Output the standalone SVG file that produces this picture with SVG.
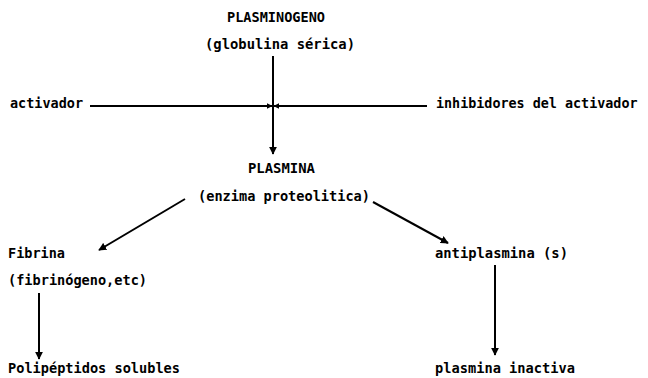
<svg xmlns="http://www.w3.org/2000/svg" width="648" height="378" viewBox="0 0 648 378">
<style>
text{font-family:"DejaVu Sans Mono","Liberation Mono",monospace;font-size:14.5px;font-weight:bold;fill:#000}
.c{stroke:#000;stroke-width:2;fill:none}
</style>
<defs>
<marker id="ah" viewBox="0 0 10 10" refX="9" refY="5" markerWidth="6" markerHeight="6" markerUnits="userSpaceOnUse" orient="auto">
<path d="M0,0 L10,5 L0,10 z" fill="#000"/>
</marker>
<marker id="ab" viewBox="0 0 10 10" refX="9" refY="5" markerWidth="8" markerHeight="8" markerUnits="userSpaceOnUse" orient="auto">
<path d="M0,0 L10,5 L0,10 z" fill="#000"/>
</marker>
</defs>
<rect width="648" height="378" fill="#fff"/>
<g id="plasminogeno"><text x="227" y="22" textLength="98" lengthAdjust="spacingAndGlyphs">PLASMINOGENO</text><text x="205" y="49" textLength="150" lengthAdjust="spacingAndGlyphs">(globulina sérica)</text></g>
<g id="activador"><text x="10" y="108" textLength="73" lengthAdjust="spacingAndGlyphs">activador</text></g>
<g id="inhibidores"><text x="436" y="108" style="font-size:13.4px">inhibidores del activador</text></g>
<g id="plasmina"><text x="248" y="173" textLength="67" lengthAdjust="spacingAndGlyphs">PLASMINA</text><text x="198" y="201" textLength="172" lengthAdjust="spacingAndGlyphs">(enzima proteolitica)</text></g>
<g id="fibrina"><text x="8" y="258" textLength="57" lengthAdjust="spacingAndGlyphs">Fibrina</text><text x="8" y="285" textLength="139" lengthAdjust="spacingAndGlyphs">(fibrinógeno,etc)</text></g>
<g id="polipeptidos"><text x="8" y="373" textLength="172" lengthAdjust="spacingAndGlyphs">Polipéptidos solubles</text></g>
<g id="antiplasmina"><text x="435" y="258" textLength="133" lengthAdjust="spacingAndGlyphs">antiplasmina (s)</text></g>
<g id="inactiva"><text x="435" y="373" textLength="140" lengthAdjust="spacingAndGlyphs">plasmina inactiva</text></g>
<g id="connectors">
<line class="c" x1="273" y1="56" x2="273" y2="154" marker-end="url(#ab)"/>
<line class="c" x1="90" y1="106" x2="272" y2="106" marker-end="url(#ah)"/>
<line class="c" x1="427" y1="106" x2="274" y2="106" marker-end="url(#ah)"/>
<line class="c" x1="185" y1="199" x2="99" y2="250" marker-end="url(#ab)"/>
<line class="c" x1="373" y1="202" x2="448" y2="243" marker-end="url(#ab)"/>
<line class="c" x1="39" y1="293" x2="39" y2="359" marker-end="url(#ab)"/>
<line class="c" x1="495" y1="265" x2="495" y2="355" marker-end="url(#ab)"/>
</g>
</svg>
